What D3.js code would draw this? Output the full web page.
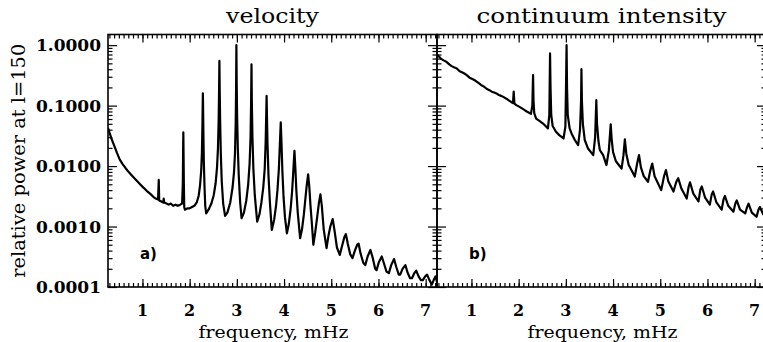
<!DOCTYPE html>
<html><head><meta charset="utf-8">
<script src="https://cdn.jsdelivr.net/npm/d3@7"></script>
<style>body{margin:0;background:#fff}svg{display:block}</style>
</head><body>
<script>
// ---- data ----
const panelTitles = ["velocity", "continuum intensity"];
const panelTags = ["a)", "b)"];
const xTickLabels = [1, 2, 3, 4, 5, 6, 7];
const yTickValues = [1, 0.1, 0.01, 0.001, 0.0001];
const yTickLabels = ["1.0000", "0.1000", "0.0100", "0.0010", "0.0001"];
const xLabel = "frequency, mHz";
const yLabel = "relative power at l=150";

// velocity spectrum: [frequency mHz, relative power]
const velocitySpectrum = [
 [0.27,0.043],[0.30,0.036],[0.34,0.029],[0.38,0.024],[0.42,0.020],[0.46,0.0165],[0.52,0.0128],[0.58,0.0108],
 [0.64,0.0093],[0.70,0.0081],[0.76,0.0072],[0.82,0.0064],[0.88,0.0057],[0.95,0.0050],[1.02,0.0044],[1.09,0.0039],
 [1.16,0.0035],[1.23,0.0031],[1.28,0.0029],[1.33,0.0028],[1.345,0.0059],[1.355,0.0027],[1.40,0.0026],[1.44,0.0025],
 [1.45,0.0029],[1.46,0.0025],[1.51,0.0024],[1.56,0.0023],[1.60,0.0024],[1.65,0.0022],[1.70,0.0023],[1.75,0.0022],
 [1.80,0.0023],[1.84,0.0024],[1.855,0.005],[1.862,0.02],[1.866,0.036],[1.870,0.018],[1.877,0.005],[1.885,0.0021],
 [1.90,0.0019],[1.95,0.0020],[2.00,0.0020],[2.05,0.0021],[2.10,0.0022],[2.15,0.0025],
 [2.19,0.0032],[2.22,0.0048],[2.245,0.0085],[2.26,0.017],[2.27,0.045],[2.276,0.10],[2.28,0.16],[2.284,0.10],
 [2.29,0.04],[2.30,0.012],[2.315,0.0045],[2.33,0.0022],[2.35,0.00165],
 [2.40,0.0019],[2.46,0.0024],[2.51,0.0033],[2.55,0.0052],[2.58,0.0095],[2.60,0.02],[2.615,0.06],[2.624,0.2],
 [2.63,0.55],[2.636,0.2],[2.645,0.06],[2.66,0.016],[2.68,0.0055],[2.71,0.0024],[2.75,0.0015],
 [2.80,0.0017],[2.86,0.0025],[2.91,0.0045],[2.94,0.008],[2.96,0.016],[2.975,0.05],[2.984,0.2],[2.99,1.0],
 [2.996,0.25],[3.005,0.07],[3.02,0.02],[3.04,0.007],[3.07,0.0025],[3.10,0.00137],
 [3.15,0.0017],[3.20,0.0027],[3.24,0.005],[3.27,0.011],[3.29,0.03],[3.302,0.12],[3.31,0.48],[3.317,0.12],
 [3.33,0.03],[3.35,0.009],[3.38,0.0033],[3.43,0.0012],
 [3.48,0.0016],[3.52,0.0025],[3.56,0.0045],[3.59,0.009],[3.61,0.025],[3.622,0.07],[3.63,0.145],[3.638,0.065],
 [3.65,0.022],[3.67,0.007],[3.70,0.0025],[3.74,0.00088],
 [3.79,0.0013],[3.83,0.0022],[3.86,0.004],[3.89,0.009],[3.91,0.022],[3.93,0.053],[3.945,0.025],[3.965,0.008],
 [3.99,0.003],[4.02,0.0014],[4.06,0.00077],
 [4.10,0.0011],[4.14,0.002],[4.17,0.0038],[4.195,0.008],[4.22,0.0179],[4.24,0.009],[4.26,0.004],[4.29,0.0017],[4.34,0.00064],
 [4.38,0.0009],[4.42,0.0016],[4.45,0.0028],[4.48,0.0048],[4.51,0.0073],[4.535,0.0045],[4.56,0.0022],[4.59,0.0011],[4.62,0.0005],
 [4.66,0.0008],[4.70,0.0014],[4.74,0.0025],[4.77,0.0034],[4.80,0.0022],[4.84,0.0009],[4.90,0.00044],
 [4.94,0.0007],[4.98,0.001],[5.03,0.00133],[5.07,0.00085],[5.12,0.00045],[5.18,0.00034],
 [5.23,0.00048],[5.28,0.00068],[5.31,0.00075],[5.35,0.00052],[5.40,0.00035],[5.45,0.0003],[5.50,0.0004],[5.55,0.0005],
 [5.58,0.00052],[5.62,0.00036],[5.68,0.00025],[5.72,0.00023],[5.77,0.00032],[5.83,0.00041],[5.88,0.0003],[5.93,0.0002],
 [5.96,0.00019],[6.01,0.00026],[6.07,0.00032],[6.12,0.00024],[6.17,0.00018],[6.22,0.00017],[6.27,0.00023],[6.33,0.00029],
 [6.38,0.00021],[6.43,0.00016],[6.46,0.00016],[6.51,0.0002],[6.57,0.00023],[6.62,0.00017],[6.67,0.00014],[6.71,0.00014],
 [6.76,0.00017],[6.80,0.000186],[6.85,0.00015],[6.90,0.00013],[6.94,0.00013],[6.99,0.00015],[7.03,0.00016],[7.08,0.00013],
 [7.13,0.00011],[7.17,0.00013],[7.21,0.00015],[7.24,0.00012]
];

// continuum intensity spectrum: [frequency mHz, relative power]
const intensitySpectrum = [
 [0.27,0.70],[0.30,0.66],[0.35,0.60],[0.41,0.56],[0.47,0.53],[0.53,0.48],[0.58,0.45],[0.63,0.43],[0.69,0.41],
 [0.75,0.37],[0.80,0.355],[0.85,0.34],[0.90,0.32],[0.96,0.29],[1.02,0.275],[1.08,0.26],[1.11,0.25],[1.17,0.23],
 [1.22,0.215],[1.27,0.205],[1.32,0.19],[1.38,0.18],[1.43,0.17],[1.48,0.165],[1.53,0.159],[1.58,0.15],[1.63,0.145],
 [1.69,0.137],[1.74,0.13],[1.79,0.122],[1.84,0.115],[1.88,0.11],[1.895,0.17],[1.91,0.108],[1.95,0.102],[2.00,0.097],
 [2.07,0.09],[2.12,0.085],[2.17,0.08],[2.22,0.076],[2.26,0.073],[2.29,0.1],[2.305,0.32],[2.315,0.12],[2.33,0.075],
 [2.37,0.061],[2.44,0.056],[2.51,0.051],[2.57,0.046],[2.62,0.042],[2.65,0.07],[2.665,0.73],[2.675,0.2],[2.69,0.07],
 [2.72,0.046],[2.79,0.037],[2.86,0.0325],[2.95,0.0286],[2.99,0.045],[3.005,0.25],[3.015,1.0],[3.025,0.2],[3.04,0.07],
 [3.08,0.042],[3.12,0.0346],[3.19,0.027],[3.26,0.0222],[3.30,0.04],[3.322,0.12],[3.33,0.40],[3.34,0.12],[3.36,0.05],
 [3.40,0.027],[3.47,0.0195],[3.58,0.0152],[3.62,0.03],[3.645,0.123],[3.66,0.05],[3.69,0.026],[3.72,0.0183],[3.79,0.0152],
 [3.86,0.0104],[3.91,0.018],[3.95,0.049],[3.97,0.028],[4.00,0.017],[4.06,0.012],[4.18,0.0091],[4.22,0.015],[4.25,0.0276],
 [4.28,0.016],[4.33,0.0105],[4.46,0.0067],[4.51,0.011],[4.55,0.0152],[4.59,0.0095],[4.65,0.0068],[4.74,0.0055],[4.79,0.0085],
 [4.83,0.011],[4.88,0.0068],[5.02,0.004],[5.08,0.0068],[5.12,0.0086],[5.17,0.0056],[5.28,0.0038],[5.34,0.0055],[5.38,0.0063],
 [5.45,0.0042],[5.56,0.0029],[5.60,0.0045],[5.63,0.0054],[5.70,0.0035],[5.81,0.0026],[5.85,0.0041],[5.88,0.0046],
 [5.95,0.003],[6.05,0.0023],[6.09,0.0034],[6.12,0.0038],[6.19,0.0025],[6.30,0.0019],[6.34,0.0028],[6.37,0.0032],
 [6.44,0.0022],[6.55,0.00176],[6.59,0.0024],[6.62,0.0027],[6.69,0.0019],[6.80,0.00165],[6.84,0.0021],[6.87,0.0024],
 [6.94,0.0017],[7.04,0.00145],[7.08,0.0019],[7.11,0.0021],[7.18,0.0016],[7.24,0.0015]
];

const spectra = [velocitySpectrum, intensitySpectrum];

// ---- layout ----
const W = 763, H = 342;
const panelW = 329, yTop = 34.5, yBottom = 287;
const panelX = [108, 437];
const titleWidths = [93, 250];
const serif = "'DejaVu Serif', serif";

const svg = d3.select("body").append("svg").attr("width", W).attr("height", H);

const y = d3.scaleLog().domain([0.0001, 1.5]).range([yBottom, yTop]);
const minorX = d3.range(3, 73).map(d => d / 10);
const yMinor = [];
[0.0001, 0.001, 0.01, 0.1, 1].forEach(dec => { for (let k = 2; k <= 9; k++) { const v = dec * k; if (v <= 1.5) yMinor.push(v); } });

spectra.forEach((data, i) => {
  const x0 = panelX[i];
  const x = d3.scaleLinear().domain([0.27, 7.24]).range([x0, x0 + panelW]);
  const g = svg.append("g");

  const clipId = "clip" + i;
  svg.append("clipPath").attr("id", clipId).append("rect")
    .attr("x", x0).attr("y", yTop).attr("width", panelW).attr("height", yBottom - yTop);

  g.append("path").datum(data)
    .attr("clip-path", `url(#${clipId})`)
    .attr("fill", "none").attr("stroke", "#000").attr("stroke-width", 2.2)
    .attr("stroke-linejoin", "round")
    .attr("d", d3.line().x(d => x(d[0])).y(d => y(d[1])));

  g.append("rect").attr("x", x0).attr("y", yTop).attr("width", panelW).attr("height", yBottom - yTop)
    .attr("fill", "none").attr("stroke", "#000").attr("stroke-width", 1.6);

  const styleAxis = sel => { sel.select(".domain").remove(); sel.selectAll("line").attr("stroke", "#000").attr("stroke-width", 1.2); sel.selectAll("text").remove(); };

  g.append("g").attr("transform", `translate(0,${yBottom})`).call(d3.axisBottom(x).tickValues(xTickLabels).tickSize(-8)).call(styleAxis);
  g.append("g").attr("transform", `translate(0,${yBottom})`).call(d3.axisBottom(x).tickValues(minorX).tickSize(-4)).call(styleAxis);
  g.append("g").attr("transform", `translate(0,${yTop})`).call(d3.axisTop(x).tickValues(xTickLabels).tickSize(-8)).call(styleAxis);
  g.append("g").attr("transform", `translate(0,${yTop})`).call(d3.axisTop(x).tickValues(minorX).tickSize(-4)).call(styleAxis);
  g.append("g").attr("transform", `translate(${x0},0)`).call(d3.axisLeft(y).tickValues(yTickValues).tickSize(-9)).call(styleAxis);
  g.append("g").attr("transform", `translate(${x0},0)`).call(d3.axisLeft(y).tickValues(yMinor).tickSize(-4.5)).call(styleAxis);
  g.append("g").attr("transform", `translate(${x0 + panelW},0)`).call(d3.axisRight(y).tickValues(yTickValues).tickSize(-9)).call(styleAxis);
  g.append("g").attr("transform", `translate(${x0 + panelW},0)`).call(d3.axisRight(y).tickValues(yMinor).tickSize(-4.5)).call(styleAxis);

  g.selectAll("text.xt").data(xTickLabels).enter().append("text")
    .attr("x", d => x(d)).attr("y", 316).attr("text-anchor", "middle")
    .attr("font-family", serif).attr("font-size", 16).attr("font-weight", "bold").text(d => d);

  g.append("text").attr("x", x0 + panelW / 2 + 1).attr("y", 338).attr("text-anchor", "middle")
    .attr("font-family", serif).attr("font-size", 16)
    .attr("textLength", 150).attr("lengthAdjust", "spacingAndGlyphs").text(xLabel);

  g.append("text").attr("x", x0 + panelW / 2).attr("y", 23).attr("text-anchor", "middle")
    .attr("font-family", serif).attr("font-size", 20)
    .attr("textLength", titleWidths[i]).attr("lengthAdjust", "spacingAndGlyphs").text(panelTitles[i]);

  g.append("text").attr("x", x0 + 32).attr("y", 259)
    .attr("font-family", "'DejaVu Sans', sans-serif").attr("font-weight", "bold").attr("font-size", 15).text(panelTags[i]);
});

svg.selectAll("text.yt").data(yTickValues).enter().append("text")
  .attr("x", 101).attr("y", d => y(d)).attr("dy", "0.36em").attr("text-anchor", "end")
  .attr("font-family", serif).attr("font-size", 17).attr("font-weight", "bold")
  .text((d, i) => yTickLabels[i]);

svg.append("text").attr("transform", `translate(25,${(yTop + yBottom) / 2}) rotate(-90)`)
  .attr("text-anchor", "middle").attr("font-family", serif).attr("font-size", 18)
  .attr("textLength", 234).attr("lengthAdjust", "spacingAndGlyphs").text(yLabel);
</script>
</body></html>
